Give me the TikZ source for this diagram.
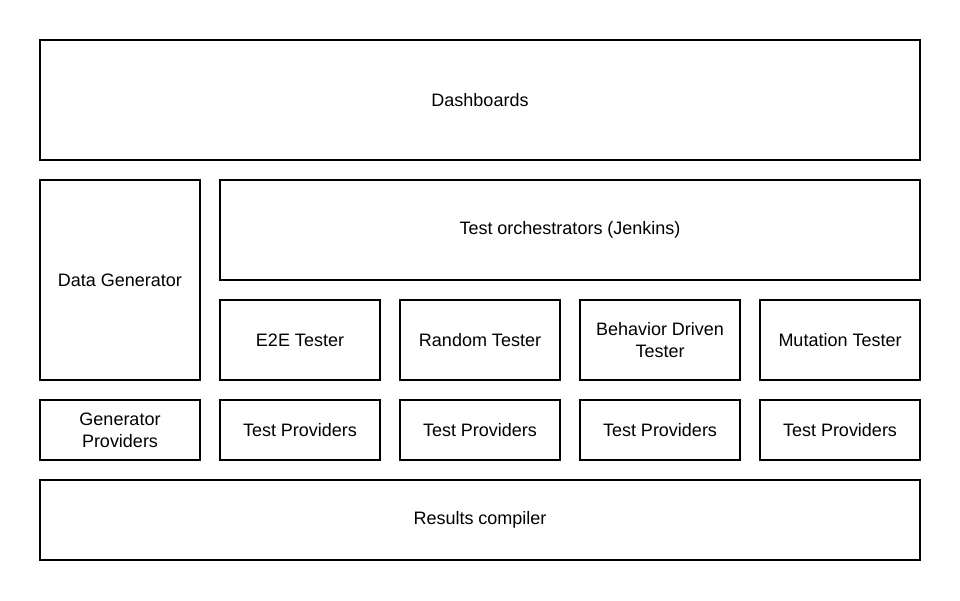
\documentclass[tikz,border=0pt]{standalone}
\usepackage{fontspec}
\setmainfont{Liberation Sans}
\usetikzlibrary{positioning}

\begin{document}
\begin{tikzpicture}[on grid,
    box/.style={draw, line width=1pt, align=center, font=\fontsize{12.8}{15.6}\selectfont,
                inner sep=0pt, minimum width=4cm},
    tester/.style={box, minimum height=2cm},
    provider/.style={box, minimum height=1.5cm}]
    \useasboundingbox (0,0) rectangle (24,-15);
               \node[box, minimum width=22cm, minimum height=3cm] (dash) at (12,-2.5) {Dashboards};
               \node[box, minimum height=5cm] (datagen) at (3,-7) {Data Generator};
               \node[box, minimum width=17.5cm, minimum height=2.5cm] (orch) at (14.25,-5.75) {Test orchestrators (Jenkins)};
               \node[tester] (e2e) at (7.5,-8.5) {E2E Tester};
               \node[tester] (random) [right=4.5cm of e2e] {Random Tester};
               \node[tester] (bdd) [right=4.5cm of random] {Behavior Driven\\Tester};
               \node[tester] (mutation) [right=4.5cm of bdd] {Mutation Tester};
               \node[provider] (genprov) at (3,-10.75) {Generator\\Providers};
               \node[provider] (prov_1) [below=2.25cm of e2e] {Test Providers};
               \node[provider] (prov_2) [below=2.25cm of random] {Test Providers};
               \node[provider] (prov_3) [below=2.25cm of bdd] {Test Providers};
               \node[provider] (prov_4) [below=2.25cm of mutation] {Test Providers};
               \node[box, minimum width=22cm, minimum height=2cm] (results) at (12,-13) {Results compiler};
            \end{tikzpicture}
\end{document}
